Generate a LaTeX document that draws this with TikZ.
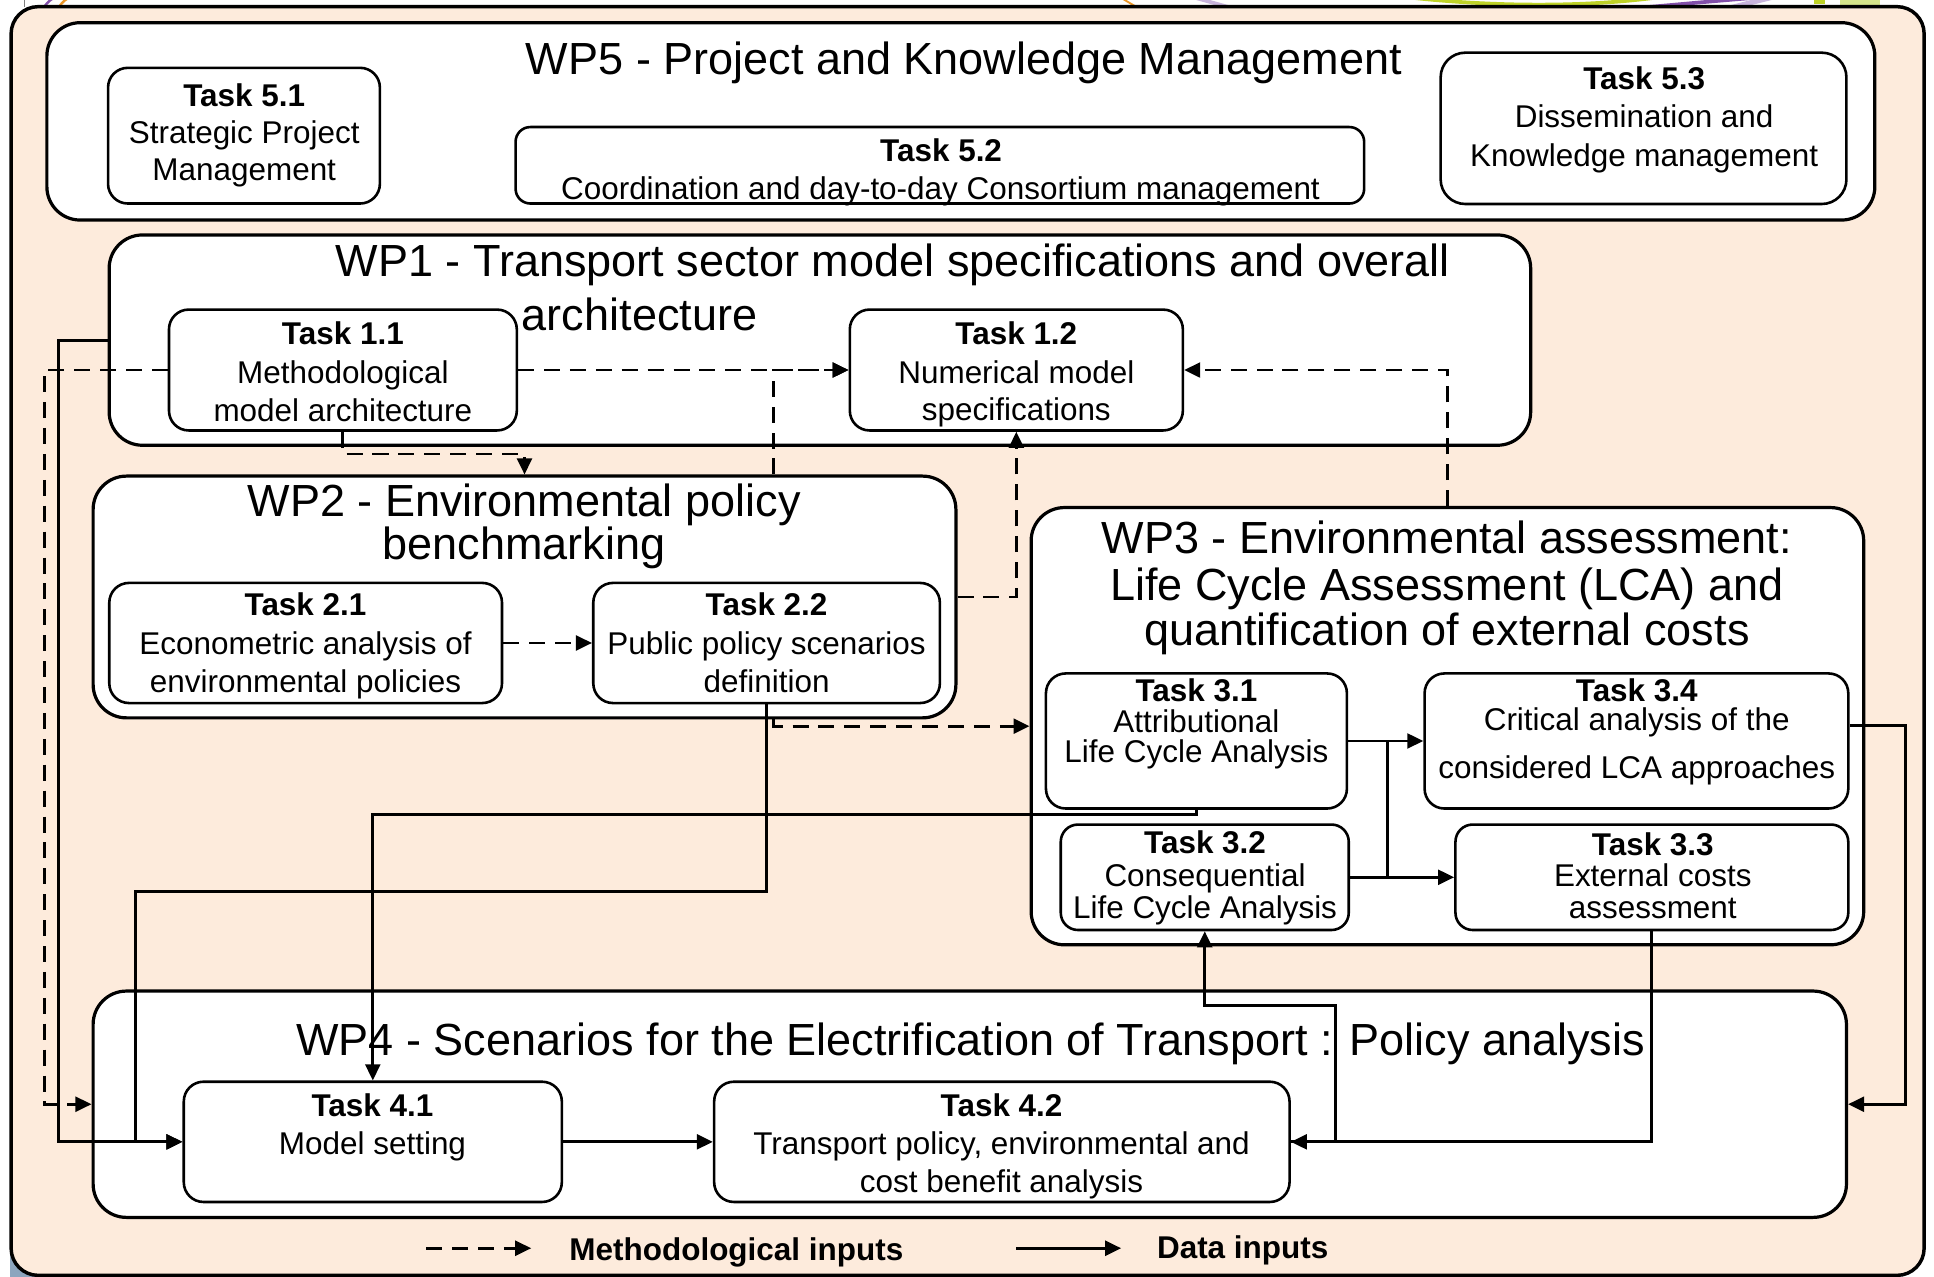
\documentclass[tikz,border=0pt]{standalone}
\usepackage{fontspec}
\setmainfont{Liberation Sans}
\usetikzlibrary{arrows.meta}
\definecolor{peach}{RGB}{253,235,220}
\definecolor{greyblue}{RGB}{140,165,190}
\definecolor{logogreen}{RGB}{190,210,40}
\definecolor{logolightgreen}{RGB}{215,230,140}
\definecolor{logopurple}{RGB}{130,80,170}
\definecolor{logolightpurple}{RGB}{200,180,220}
\definecolor{logoorange}{RGB}{235,150,40}
\newcommand\mkbox[6]{\node[#1, minimum width={#4-#2}, minimum height={#5-#3}] (#6) at ({(#2+#4)/2},{(#3+#5)/2}) {};}
\begin{document}
\begin{tikzpicture}[x=1pt,y=-1pt,
  framebox/.style={draw, line width=2.8pt, fill=peach, rounded corners=22pt, inner sep=0pt},
  wpbox/.style={draw, line width=2.6pt, fill=white, rounded corners=27pt, inner sep=0pt},
  taskbox/.style={draw, line width=2.1pt, fill=white, rounded corners=16pt, inner sep=0pt},
  meth/.style={line width=2.3pt, dash pattern=on 13pt off 8pt, -{Triangle[length=13pt,width=12pt]}},
  data/.style={line width=2.3pt, -{Triangle[length=13pt,width=12pt]}},
  plain/.style={line width=2.3pt},
  wptitle/.style={font=\fontsize{36.5}{40}\selectfont, anchor=base, inner sep=0pt},
  tasktitle/.style={font=\fontsize{25.5}{30}\selectfont\bfseries, anchor=base, inner sep=0pt},
  tasktext/.style={font=\fontsize{25.5}{30}\selectfont, anchor=base, inner sep=0pt},
  legendtext/.style={font=\fontsize{25.5}{30}\selectfont\bfseries, anchor=base, inner sep=0pt},
]
\useasboundingbox (0,0) rectangle (1568,1035);

% remnants of a logo above the frame and background corner
\begin{scope}
\clip (0,0) rectangle (1568,5);
\draw[line width=1pt, gray] (20,-2) -- (20,6);
\draw[line width=2pt, logopurple] (34,8) .. controls (40,0) .. (48,-4);
\draw[line width=2pt, logoorange] (46,8) .. controls (52,0) .. (60,-4);
\draw[line width=1.5pt, logoorange] (905,-4) -- (922,6);
\draw[line width=3pt, logolightpurple] (961,-4) -- (997,6);
\draw[line width=3pt, logogreen] (1112,-6) .. controls (1200,7) and (1300,7) .. (1368,-6);
\draw[line width=3pt, logopurple] (1333,6) .. controls (1400,0) .. (1475,-6);
\draw[line width=4pt, logolightpurple] (1404,6) -- (1444,-4);
\fill[logogreen] (1471,-1) rectangle (1480,3);
\fill[logolightgreen] (1492,-1) rectangle (1524,5);
\end{scope}
\fill[greyblue] (8,1008) rectangle (32,1035);

% frame
\mkbox{framebox}{9}{5.4}{1560}{1034}{frame}

% work packages
\mkbox{wpbox}{38}{18.4}{1520}{178.4}{wp5}
\mkbox{wpbox}{88.5}{190.5}{1241}{361}{wp1}
\mkbox{wpbox}{75.5}{386}{775}{582}{wp2}
\mkbox{wpbox}{836}{411.5}{1511}{766}{wp3}
\mkbox{wpbox}{75.5}{803.5}{1497}{987}{wp4}

% tasks
\mkbox{taskbox}{87.6}{55}{308}{165}{t51}
\mkbox{taskbox, rounded corners=12pt}{418}{103}{1106}{165}{t52}
\mkbox{taskbox, rounded corners=20pt}{1168}{42.7}{1497}{165.4}{t53}
\mkbox{taskbox}{137}{251}{419}{349}{t11}
\mkbox{taskbox}{689}{251}{959}{349}{t12}
\mkbox{taskbox}{88.6}{472.6}{407}{570}{t21}
\mkbox{taskbox}{481}{472.6}{762}{570}{t22}
\mkbox{taskbox}{848}{546}{1092}{655.5}{t31}
\mkbox{taskbox, rounded corners=14pt}{860}{668.5}{1093.5}{754}{t32}
\mkbox{taskbox}{1155}{546}{1498.5}{655.5}{t34}
\mkbox{taskbox, rounded corners=14pt}{1180}{668.5}{1498.5}{754}{t33}
\mkbox{taskbox}{149}{877}{455.5}{974.5}{t41}
\mkbox{taskbox}{579}{877}{1045.5}{974.5}{t42}

% texts
\node[wptitle] (wp5a) at (781.5,60) {WP5 - Project and Knowledge Management};
\node[tasktitle] (t51a) at (198,86) {Task 5.1};
\node[tasktext] (t51b) at (198,116.2) {Strategic Project};
\node[tasktext] (t51c) at (198,146) {Management};
\node[tasktitle] (t52a) at (763,131.1) {Task 5.2};
\node[tasktext] (t52b) at (762.5,161.6) {Coordination and day-to-day Consortium management};
\node[tasktitle] (t53a) at (1333,72.4) {Task 5.3};
\node[tasktext] (t53b) at (1333,103.2) {Dissemination and};
\node[tasktext] (t53c) at (1333,134.6) {Knowledge management};

\node[wptitle] (wp1a) at (724,224.3) {WP1 - Transport sector model specifications and overall};
\node[wptitle] (wp1b) at (518.5,267.6) {architecture};
\node[tasktitle] (t11a) at (278,279.7) {Task 1.1};
\node[tasktext] (t11b) at (278,310.8) {Methodological};
\node[tasktext] (t11c) at (278,341.9) {model architecture};
\node[tasktitle] (t12a) at (824,278.9) {Task 1.2};
\node[tasktext] (t12b) at (824,311) {Numerical model};
\node[tasktext] (t12c) at (824,341) {specifications};

\node[wptitle] (wp2a) at (425,419) {WP2 - Environmental policy};
\node[wptitle] (wp2b) at (425,454) {benchmarking};
\node[tasktitle] (t21a) at (247.7,499.4) {Task 2.1};
\node[tasktext] (t21b) at (247.7,531) {Econometric analysis of};
\node[tasktext] (t21c) at (247.7,561.3) {environmental policies};
\node[tasktitle] (t22a) at (621.5,499.4) {Task 2.2};
\node[tasktext] (t22b) at (621.5,531) {Public policy scenarios};
\node[tasktext] (t22c) at (621.5,561.3) {definition};

\node[wptitle] (wp3a) at (1173,448.6) {WP3 - Environmental assessment:};
\node[wptitle] (wp3b) at (1173,486.5) {Life Cycle Assessment (LCA) and};
\node[wptitle] (wp3c) at (1173,523) {quantification of external costs};
\node[tasktitle] (t31a) at (970,568.9) {Task 3.1};
\node[tasktext] (t31b) at (970,594) {Attributional};
\node[tasktext] (t31c) at (970,618.4) {Life Cycle Analysis};
\node[tasktitle] (t32a) at (977,691.9) {Task 3.2};
\node[tasktext] (t32b) at (977,718.9) {Consequential};
\node[tasktext] (t32c) at (977,744.6) {Life Cycle Analysis};
\node[tasktitle] (t34a) at (1327,568.9) {Task 3.4};
\node[tasktext] (t34b) at (1327,591.9) {Critical analysis of the};
\node[tasktext] (t34c) at (1327,631) {considered LCA approaches};
\node[tasktitle] (t33a) at (1340,693.2) {Task 3.3};
\node[tasktext] (t33b) at (1340,718.9) {External costs};
\node[tasktext] (t33c) at (1340,744.6) {assessment};

\node[wptitle] (wp4a) at (787,855.4) {WP4 - Scenarios for the Electrification of Transport : Policy analysis};
\node[tasktitle] (t41a) at (302,905.4) {Task 4.1};
\node[tasktext] (t41b) at (302,936.4) {Model setting};
\node[tasktitle] (t42a) at (812,905.4) {Task 4.2};
\node[tasktext] (t42b) at (812,936.4) {Transport policy, environmental and};
\node[tasktext] (t42c) at (812,967) {cost benefit analysis};

% methodological inputs (dashed)
\draw[meth] (t11.east) -- (t12.west);
\draw[meth] (t11.west) -- ++(-100,0) |- (wp4.west);
\draw[meth] (t11.south) -- ++(0,18) -| (wp2.north);
\draw[meth] (wp2.north -| 627,0) |- (t12.west);
\draw[meth] (wp2.east) -| (t12.south);
\draw[meth] (t21.east) -- (t22.west);
\draw[meth] (wp2.south -| 627,0) |- (wp3.west);
\draw[meth] (wp3.north) |- (t12.east);

% data inputs (solid)
\draw[data] (wp1.west) -- ++(-39.5,0) |- (t41.west);
\draw[data] (t22.south) |- (110,723) |- (t41.west);
\draw[data] (t31.south) -- ++(0,4) -| (t41.north);
\draw[data] (t31.east) -- (t34.west);
\draw[data] (t32.east) -- (t33.west);
\draw[plain] (t31.east -| 1125,0) -- (t32.east -| 1125,0);
\draw[data] (t34.east |- 0,588.5) -- (1545,588.5) |- (wp4.east);
\draw[data] (t33.south) |- (t42.east);
\draw[data] (t42.east) -| (1083,815) -| (t32.south);
\draw[data] (t41.east) -- (t42.west);

% legend
\coordinate (lm1) at (345.6,1012);
\coordinate (lm2) at (430.7,1012);
\draw[meth] (lm1) -- (lm2);
\node[legendtext] (lmtext) at (597,1021.6) {Methodological inputs};
\coordinate (ld1) at (823.8,1012);
\coordinate (ld2) at (909,1012);
\draw[data] (ld1) -- (ld2);
\node[legendtext] (ldtext) at (1007.5,1020.2) {Data inputs};
\end{tikzpicture}
\end{document}
